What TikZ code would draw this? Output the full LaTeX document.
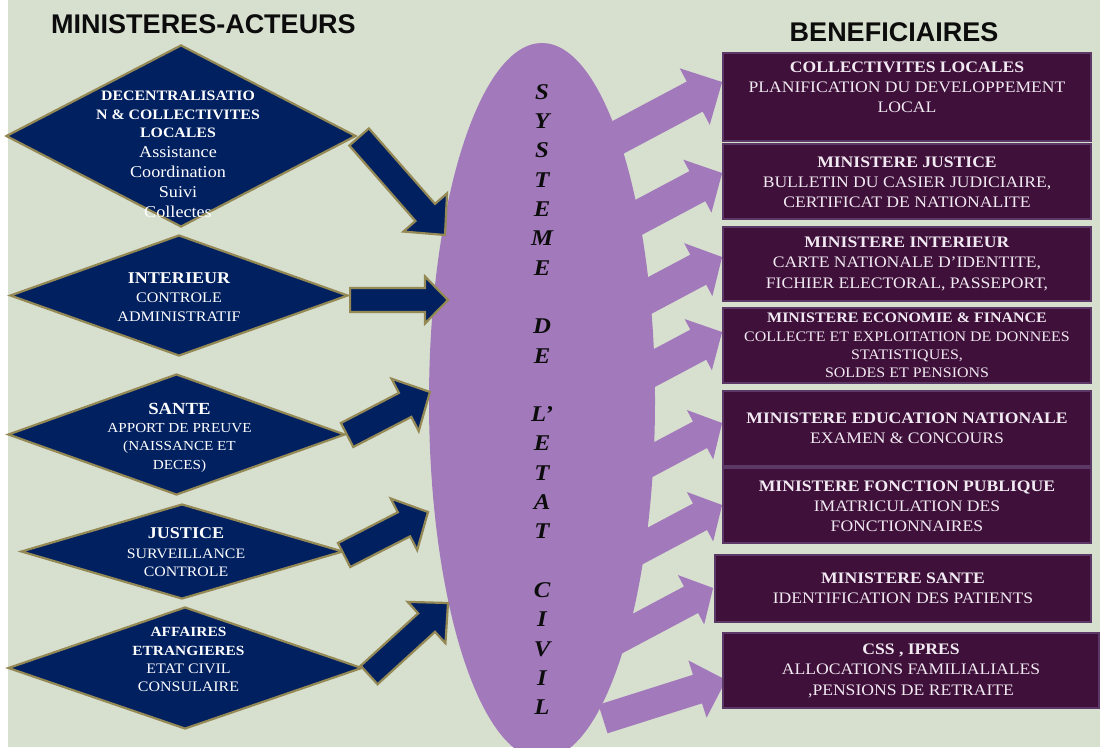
\documentclass[tikz,border=0pt]{standalone}
\usepackage{fontspec}
\setmainfont[FakeStretch=1.1]{Liberation Serif}
\newfontfamily\titlefont{Liberation Sans}
\usetikzlibrary{calc,shapes.geometric}
\definecolor{bgc}{RGB}{215,223,207}
\definecolor{navy}{RGB}{0,32,96}
\definecolor{goldedge}{RGB}{148,137,84}
\definecolor{lilac}{RGB}{162,122,187}
\definecolor{plum}{RGB}{62,16,58}
\definecolor{plumedge}{RGB}{92,56,102}
\definecolor{boxtext}{RGB}{242,234,242}
\definecolor{titleblack}{RGB}{12,12,12}
\newcommand\fs[2]{\fontsize{#1}{#2}\selectfont}
% style, tail, tip, half shaft, half head, head length, head-base name
\newcommand\blkarrow[7]{%
  \coordinate (#7) at ($(#3)!#6!(#2)$);
  \path[#1] ($(#2)!#4!90:(#3)$) -- ($(#7)!#4!90:(#3)$) -- ($(#7)!#5!90:(#3)$)
    -- (#3) -- ($(#7)!#5!-90:(#3)$) -- ($(#7)!#4!-90:(#3)$)
    -- ($(#2)!#4!-90:(#3)$) -- cycle;
}
\tikzset{
  diam/.style={diamond, draw=goldedge, line width=2.2pt, fill=navy, inner sep=0pt},
  navyarrow/.style={fill=navy, draw=goldedge, line width=2.2pt, line join=miter},
  lilacarrow/.style={fill=lilac},
  benbox/.style={rectangle, fill=plum, draw=plumedge, line width=1.8pt, inner sep=0pt},
  dtext/.style={text=white, align=center, inner sep=0pt},
  btext/.style={text=boxtext, align=center, inner sep=0pt},
  titletext/.style={anchor=base, font=\titlefont\bfseries\fs{27}{30}, text=titleblack, inner sep=0pt}
}
\begin{document}
\begin{tikzpicture}[x=1pt,y=-1pt]
\useasboundingbox (0,0) rectangle (1100,747);
\fill[white] (0,0) rectangle (8,747);
\fill[bgc] (8,0) rectangle (1100,747);

% titles
\node[titletext] (t1) at (203.5,33) {MINISTERES-ACTEURS};
\node[titletext] (t2) at (894,41) {BENEFICIAIRES};

% central ellipse
\node[ellipse, fill=lilac, minimum width=226pt, minimum height=716pt, inner sep=0pt] (ell) at (542,401) {};

% beneficiary boxes (positions)
\node[benbox, minimum width=368pt, minimum height=88pt] (b1) at (907,97) {};
\node[benbox, minimum width=368pt, minimum height=75pt] (b2) at (907,181.5) {};
\node[benbox, minimum width=368pt, minimum height=74pt] (b3) at (907,264) {};
\node[benbox, minimum width=368pt, minimum height=75pt] (b4) at (907,345.5) {};
\node[benbox, minimum width=368pt, minimum height=75pt] (b5) at (907,428.5) {};
\node[benbox, minimum width=368pt, minimum height=75pt] (b6) at (907,505.5) {};
\node[benbox, minimum width=376pt, minimum height=67pt] (b7) at (903,588.5) {};
\node[benbox, minimum width=376pt, minimum height=75pt] (b8) at (911,670.5) {};

% right arrows (ellipse -> boxes)
\coordinate (r1b) at ($(b1.west)+(0,-15)$);
\coordinate (r2b) at ($(b2.west)+(0,-8.5)$);
\coordinate (r3b) at ($(b3.west)+(0,-7)$);
\coordinate (r4b) at ($(b4.west)+(0,-13.5)$);
\coordinate (r5b) at ($(b5.west)+(0,-5.5)$);
\coordinate (r6b) at ($(b6.west)+(0,-0.5)$);
\coordinate (r7b) at ($(b7.west)+(-1,-0.5)$);
\coordinate (r8b) at ($(b8.west)+(4,9.5)$);
\coordinate (r1a) at ($(r1b)+(-132.4,70.4)$);
\coordinate (r2a) at ($(r2b)+(-132.4,70.4)$);
\coordinate (r3a) at ($(r3b)+(-132.4,70.4)$);
\coordinate (r4a) at ($(r4b)+(-132.4,70.4)$);
\coordinate (r5a) at ($(r5b)+(-132.4,70.4)$);
\coordinate (r6a) at ($(r6b)+(-132.4,70.4)$);
\coordinate (r7a) at ($(r7b)+(-132.4,70.4)$);
\coordinate (r8a) at (603,719);
\blkarrow{lilacarrow}{r1a}{r1b}{17pt}{32pt}{31pt}{r1h}
\blkarrow{lilacarrow}{r2a}{r2b}{17pt}{30pt}{28pt}{r2h}
\blkarrow{lilacarrow}{r3a}{r3b}{17pt}{30pt}{27pt}{r3h}
\blkarrow{lilacarrow}{r4a}{r4b}{17pt}{29pt}{27pt}{r4h}
\blkarrow{lilacarrow}{r5a}{r5b}{15pt}{28pt}{25pt}{r5h}
\blkarrow{lilacarrow}{r6a}{r6b}{15pt}{28pt}{25pt}{r6h}
\blkarrow{lilacarrow}{r7a}{r7b}{15pt}{28pt}{25pt}{r7h}
\blkarrow{lilacarrow}{r8a}{r8b}{15pt}{30pt}{30pt}{r8h}

% redraw boxes on top of arrow tips
\node[benbox, minimum width=368pt, minimum height=88pt] at (b1) {};
\node[benbox, minimum width=368pt, minimum height=75pt] at (b2) {};
\node[benbox, minimum width=368pt, minimum height=74pt] at (b3) {};
\node[benbox, minimum width=368pt, minimum height=75pt] at (b4) {};
\node[benbox, minimum width=368pt, minimum height=75pt] at (b5) {};
\node[benbox, minimum width=368pt, minimum height=75pt] at (b6) {};
\node[benbox, minimum width=376pt, minimum height=67pt] at (b7) {};
\node[benbox, minimum width=376pt, minimum height=75pt] at (b8) {};

% box texts
\node[btext, font=\fs{16}{20}] (b1t) at (907,87) {\textbf{COLLECTIVITES LOCALES}\\PLANIFICATION DU DEVELOPPEMENT\\LOCAL};
\node[btext, font=\fs{16}{20}] (b2t) at (907,182) {\textbf{MINISTERE JUSTICE}\\BULLETIN DU CASIER JUDICIAIRE,\\CERTIFICAT DE NATIONALITE};
\node[btext, font=\fs{16}{20.5}] (b3t) at (907,263.5) {\textbf{MINISTERE INTERIEUR}\\CARTE NATIONALE D’IDENTITE,\\FICHIER ELECTORAL, PASSEPORT,};
\node[btext, font=\fs{14.5}{18.3}] (b4t) at (907,345.5) {\textbf{MINISTERE ECONOMIE \& FINANCE}\\COLLECTE ET EXPLOITATION DE DONNEES\\STATISTIQUES,\\SOLDES ET PENSIONS};
\node[btext, font=\fs{16}{20}] (b5t) at (907,428) {\textbf{MINISTERE EDUCATION NATIONALE}\\EXAMEN \& CONCOURS};
\node[btext, font=\fs{16}{20}] (b6t) at (907,506) {\textbf{MINISTERE FONCTION PUBLIQUE}\\IMATRICULATION DES\\FONCTIONNAIRES};
\node[btext, font=\fs{16}{20}] (b7t) at (903,588) {\textbf{MINISTERE SANTE}\\IDENTIFICATION DES PATIENTS};
\node[btext, font=\fs{16}{20.5}] (b8t) at (911,670.5) {\textbf{CSS , IPRES}\\ALLOCATIONS FAMILIALIALES\\,PENSIONS DE RETRAITE};

% diamonds
\node[diam, minimum width=350pt, minimum height=182pt] (d1) at (181,136) {};
\node[diam, minimum width=338pt, minimum height=121pt] (d2) at (179,295.5) {};
\node[diam, minimum width=337pt, minimum height=121pt] (d3) at (176.5,434.5) {};
\node[diam, minimum width=322pt, minimum height=95pt] (d4) at (182,551.5) {};
\node[diam, minimum width=354pt, minimum height=122pt] (d5) at (185,668) {};

% diamond texts
\node[dtext, font=\bfseries\fs{14.4}{18.5}] (d1h) at (178,114.5) {DECENTRALISATIO\\N \& COLLECTIVITES\\LOCALES};
\node[dtext, font=\fs{16.5}{20}] (d1b) at (178,182) {Assistance\\Coordination\\Suivi\\Collectes};
\node[dtext, font=\bfseries\fs{16.4}{19}] (d2h) at (179,278) {INTERIEUR};
\node[dtext, font=\fs{14.6}{19}] (d2b) at (179,307.5) {CONTROLE\\ADMINISTRATIF};
\node[dtext, font=\bfseries\fs{17}{19}] (d3h) at (179.5,409) {SANTE};
\node[dtext, font=\fs{13.8}{18.5}] (d3b) at (179.5,447.5) {APPORT DE PREUVE\\(NAISSANCE ET\\DECES)};
\node[dtext, font=\bfseries\fs{16.4}{19}] (d4h) at (186,533) {JUSTICE};
\node[dtext, font=\fs{14.4}{18}] (d4b) at (186,563) {SURVEILLANCE\\CONTROLE};
\node[dtext, font=\bfseries\fs{14}{19}] (d5h) at (188.5,641.5) {AFFAIRES\\ETRANGIERES};
\node[dtext, font=\fs{14.5}{18}] (d5b) at (188.5,678) {ETAT CIVIL\\CONSULAIRE};

% left arrows (diamonds -> ellipse)
\coordinate (l1a) at ($(d1.east)+(2,1)$);
\coordinate (l2a) at ($(d2.east)+(1,4.5)$);
\coordinate (l3a) at ($(d3.east)+(1,0.5)$);
\coordinate (l4a) at ($(d4.east)+(0,3.5)$);
\coordinate (l5a) at ($(d5.east)+(6,7)$);
\coordinate (l1b) at (445,235);
\coordinate (l2b) at (448,300);
\coordinate (l3b) at (430,392);
\coordinate (l4b) at (428,512);
\coordinate (l5b) at (448,603);
\blkarrow{navyarrow}{l1a}{l1b}{13pt}{29pt}{30pt}{l1h}
\blkarrow{navyarrow}{l2a}{l2b}{12pt}{23.5pt}{23pt}{l2h}
\blkarrow{navyarrow}{l3a}{l3b}{13.5pt}{29.5pt}{28pt}{l3h}
\blkarrow{navyarrow}{l4a}{l4b}{13.5pt}{29pt}{27pt}{l4h}
\blkarrow{navyarrow}{l5a}{l5b}{12.5pt}{28pt}{29pt}{l5h}

% ellipse label
\node[font=\bfseries\itshape\fs{22.5}{29.3}, align=center, inner sep=0pt, text=titleblack] (sys) at (542,399.5)
  {S\\Y\\S\\T\\E\\M\\E\\[29.3pt]D\\E\\[29.3pt]L’\\E\\T\\A\\T\\[29.3pt]C\\I\\V\\I\\L};
\end{tikzpicture}
\end{document}
